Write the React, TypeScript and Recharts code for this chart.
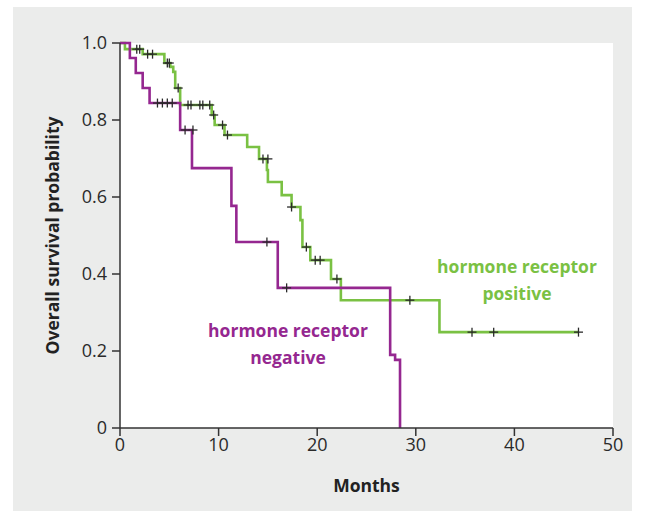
import React from 'react';
import { ComposedChart, Line, Scatter, XAxis, YAxis } from 'recharts';

// Kaplan–Meier steps: hormone receptor positive
const posTimes = [0, 0.5, 2.3, 4.5, 5.1, 5.4, 5.6, 6.1, 9.3, 9.6, 10.6, 12.9, 14.1, 14.9, 15.0, 16.4, 17.4, 18.3, 18.5, 19.3, 21.4, 22.4, 32.4, 46.5];
const posSurv = [1, 0.984, 0.971, 0.948, 0.938, 0.925, 0.883, 0.839, 0.813, 0.787, 0.761, 0.73, 0.699, 0.67, 0.639, 0.605, 0.574, 0.54, 0.47, 0.436, 0.387, 0.332, 0.249, 0.249];
const posCensorTimes = [1.7, 2.0, 2.8, 3.3, 4.8, 5.0, 5.9, 6.9, 7.2, 8.1, 8.4, 9.1, 9.5, 10.4, 10.9, 14.5, 15.0, 17.4, 18.9, 19.8, 20.3, 22.0, 29.4, 35.7, 37.9, 46.5];
const posCensorSurv = [0.984, 0.984, 0.971, 0.971, 0.948, 0.948, 0.883, 0.839, 0.839, 0.839, 0.839, 0.839, 0.813, 0.787, 0.761, 0.699, 0.699, 0.574, 0.47, 0.436, 0.436, 0.387, 0.332, 0.249, 0.249, 0.249];

// hormone receptor negative
const negTimes = [0, 1.0, 1.6, 2.3, 3.0, 6.1, 7.3, 11.3, 11.8, 16.0, 27.4, 27.9, 28.4];
const negSurv = [1, 0.961, 0.922, 0.883, 0.844, 0.774, 0.675, 0.577, 0.483, 0.364, 0.19, 0.177, 0];
const negCensorTimes = [3.8, 4.3, 4.8, 5.3, 6.6, 7.4, 14.9, 16.9];
const negCensorSurv = [0.844, 0.844, 0.844, 0.844, 0.774, 0.774, 0.483, 0.364];

const xTicks = [0, 10, 20, 30, 40, 50];
const yTicks = [0, 0.2, 0.4, 0.6, 0.8, 1.0];

const GREEN = '#7ac143';
const PURPLE = '#952790';
const FONT = '"Open Sans", sans-serif';

const toPts = (ts: number[], ss: number[]) => ts.map((t, i) => ({ t, s: ss[i] }));
const posData = toPts(posTimes, posSurv);
const negData = toPts(negTimes, negSurv);
const posCensor = toPts(posCensorTimes, posCensorSurv);
const negCensor = toPts(negCensorTimes, negCensorSurv);

const Cross = (props: any) => {
  const { cx, cy } = props;
  if (cx == null || cy == null) return null;
  const r = 4.5;
  return (
    <g stroke="#2a2a2a" strokeWidth={1.3}>
      <line x1={cx - r} y1={cy} x2={cx + r} y2={cy} />
      <line x1={cx} y1={cy - r} x2={cx} y2={cy + r} />
    </g>
  );
};

const yFmt = (v: number) => (v === 0 ? '0' : v.toFixed(1));

export default function App() {
  return (
    <div style={{ position: 'absolute', left: 0, top: 0, width: 646, height: 511, background: '#fff' }}>
      <div style={{ position: 'absolute', left: 13, top: 7, width: 619, height: 504, background: '#ebeceb' }} />
      <div style={{ position: 'absolute', left: 120, top: 43, width: 493, height: 385, background: '#fff' }} />
      <div style={{ position: 'absolute', left: 0, top: 0 }}>
        <ComposedChart width={646} height={511} margin={{ top: 43, right: 33, bottom: 0, left: 0 }}>
          <XAxis
            type="number"
            dataKey="t"
            domain={[0, 50]}
            ticks={xTicks}
            interval={0}
            height={83}
            allowDataOverflow
            tickSize={8}
            tickMargin={2}
            axisLine={{ stroke: '#333', strokeWidth: 1.5 }}
            tickLine={{ stroke: '#333', strokeWidth: 1.5 }}
            tick={{ fill: '#2a2a2a', fontSize: 18, fontFamily: FONT }}
            label={{ value: 'Months', position: 'insideBottom', offset: 19, style: { fill: '#222', fontSize: 17.5, fontWeight: 700, fontFamily: FONT } }}
          />
          <YAxis
            type="number"
            dataKey="s"
            domain={[0, 1]}
            ticks={yTicks}
            interval={0}
            width={120}
            tickFormatter={yFmt}
            tickSize={8}
            tickMargin={5}
            axisLine={{ stroke: '#333', strokeWidth: 1.5 }}
            tickLine={{ stroke: '#333', strokeWidth: 1.5 }}
            tick={{ fill: '#2a2a2a', fontSize: 18, fontFamily: FONT }}
            label={{ value: 'Overall survival probability', angle: -90, position: 'insideLeft', offset: 53, style: { textAnchor: 'middle', fill: '#222', fontSize: 17.5, fontWeight: 700, fontFamily: FONT } }}
          />
          <Line data={posData} dataKey="s" type="stepAfter" stroke={GREEN} strokeWidth={2.6} dot={false} activeDot={false} isAnimationActive={false} />
          <Line data={negData} dataKey="s" type="stepAfter" stroke={PURPLE} strokeWidth={2.6} dot={false} activeDot={false} isAnimationActive={false} />
          <Scatter data={posCensor} dataKey="s" shape={<Cross />} isAnimationActive={false} />
          <Scatter data={negCensor} dataKey="s" shape={<Cross />} isAnimationActive={false} />
        </ComposedChart>
      </div>
      <svg width={646} height={511} style={{ position: 'absolute', left: 0, top: 0, pointerEvents: 'none' }}>
        <g fontFamily={FONT} fontWeight={700} fontSize={17.5} textAnchor="middle">
          <text x={517} y={273} fill={GREEN}>hormone receptor</text>
          <text x={517} y={300} fill={GREEN}>positive</text>
          <text x={288} y={337} fill={PURPLE}>hormone receptor</text>
          <text x={288} y={364} fill={PURPLE}>negative</text>
        </g>
      </svg>
    </div>
  );
}
